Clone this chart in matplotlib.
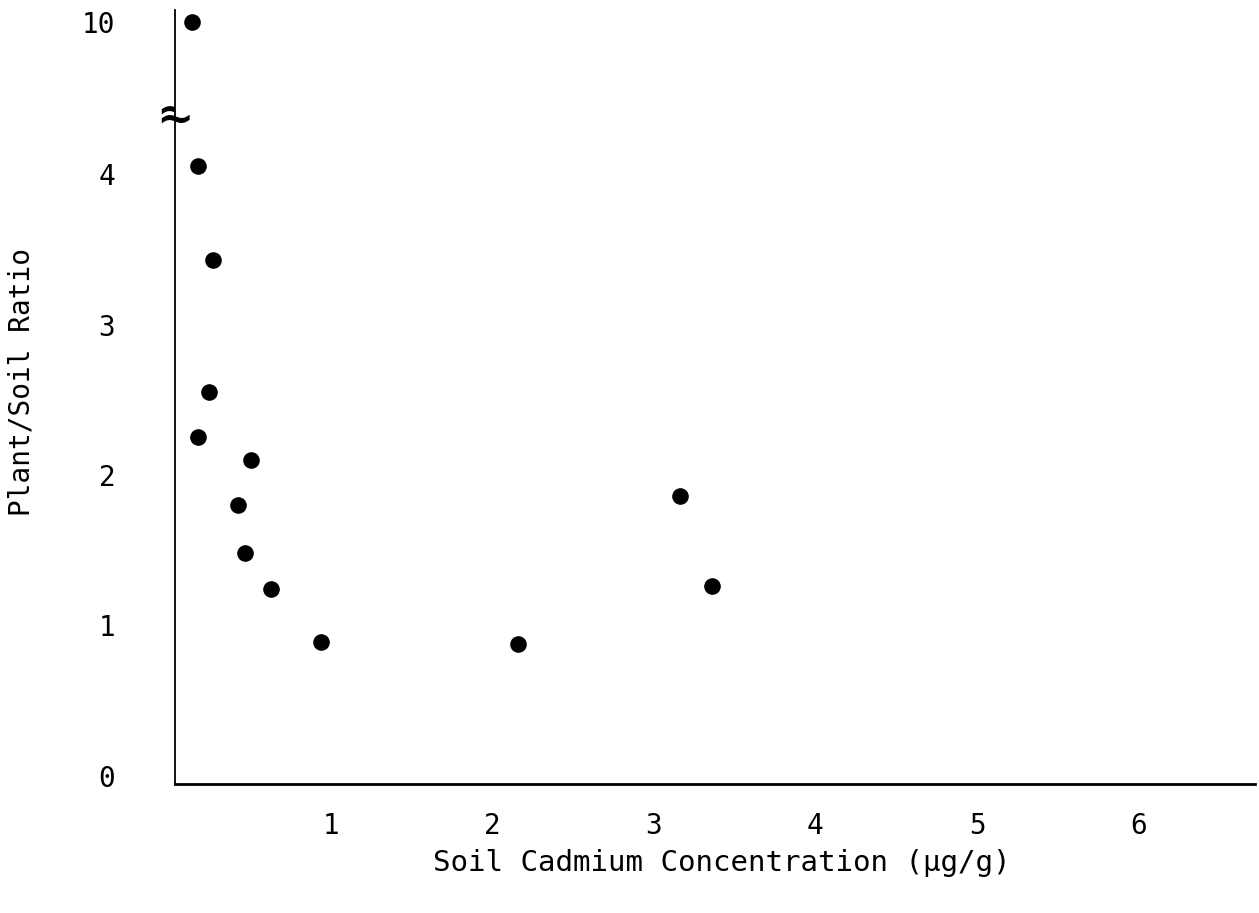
import numpy as np
import matplotlib.pyplot as plt

# --- data ---
soil_cd = [0.14, 0.18, 0.27, 0.25, 0.18, 0.51, 0.43, 0.47, 0.63, 0.94, 2.16, 3.16, 3.36]
ratio = [10.0, 4.05, 3.43, 2.55, 2.25, 2.10, 1.80, 1.48, 1.24, 0.89, 0.88, 1.86, 1.26]

x_ticks = [1, 2, 3, 4, 5, 6]
y_ticks_low = [0, 1, 2, 3, 4]
y_ticks_high = [10]

plt.rcParams['font.family'] = 'DejaVu Sans Mono'

fig = plt.figure(figsize=(12.59, 9.13), dpi=100)

# broken y axis: big lower panel (0..4.4) and small upper panel around 10
left, width = 175 / 1259, 1080 / 1259
bot = 129 / 913
brk = 798 / 913
top = 903 / 913
ax = fig.add_axes([left, bot, width, brk - bot])
ax_hi = fig.add_axes([left, brk, width, top - brk], sharex=ax)

xpx, ypx = 161.6, 150.5   # pixels per data unit in the scan
for a in (ax, ax_hi):
    a.scatter(soil_cd, ratio, s=120, color='black', zorder=3)
    a.set_xlim(6 / xpx, (1255 - 169) / xpx)
    for s in ('top', 'right'):
        a.spines[s].set_visible(False)
    a.spines['left'].set_linewidth(1.3)
    a.tick_params(length=0, labelsize=20)

ax.set_ylim(-8 / ypx, (776 - 115) / ypx)
ax_hi.set_ylim(10.08 - 105 / ypx, 10.08)
ax_hi.spines['bottom'].set_visible(False)
ax_hi.tick_params(axis='x', labelbottom=False)

ax.spines['bottom'].set_linewidth(2.0)
ax.set_xticks(x_ticks)
ax.set_yticks(y_ticks_low)
ax_hi.set_yticks(y_ticks_high)
ax.tick_params(axis='x', pad=20)
ax.tick_params(axis='y', pad=43)
ax_hi.tick_params(axis='y', pad=43)

# axis break mark
ax.text(0, 1.0, '≈', transform=ax.transAxes, ha='center', va='center',
        fontsize=32, fontweight='bold', family='DejaVu Sans')

fig.text(722 / 1259, 1 - 863 / 913, 'Soil Cadmium Concentration (μg/g)',
         ha='center', va='center', fontsize=21)
fig.text(22 / 1259, 1 - 382 / 913, 'Plant/Soil Ratio', rotation=90,
         ha='center', va='center', fontsize=20)

fig.savefig('out.png', dpi=100)
